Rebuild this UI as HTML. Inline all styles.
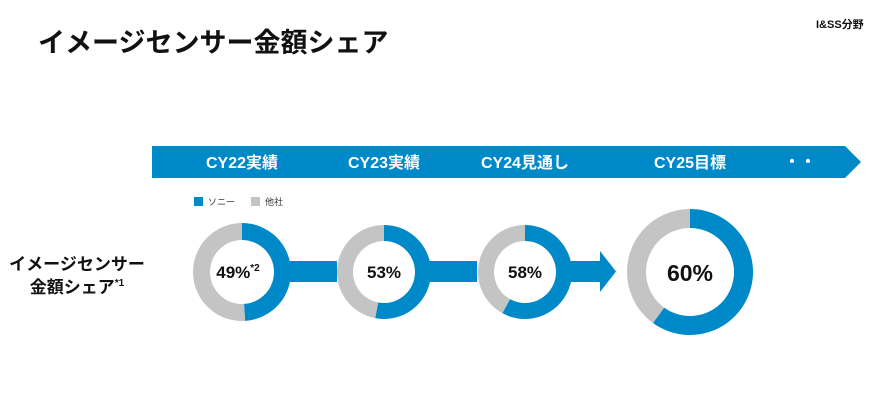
<!DOCTYPE html>
<html><head><meta charset="utf-8">
<style>
body{margin:0;background:#fff;}
svg{display:block;font-family:"Liberation Sans","Noto Sans CJK JP",sans-serif;}
</style></head>
<body>
<svg id="chart" width="891" height="400" viewBox="0 0 891 400">
<text x="38" y="52" font-size="27" font-weight="bold" fill="#111">イメージセンサー金額シェア</text>
<text x="816" y="28" font-size="11" font-weight="bold" fill="#111">I&amp;SS分野</text>
<polygon points="152,146 845,146 861,162 845,178 152,178" fill="#0089c8"/>
<g id="banner-labels"></g>
<rect x="194" y="197" width="9" height="9" fill="#0089c8"/>
<text x="208" y="205" font-size="9" fill="#333">ソニー</text>
<rect x="251" y="197" width="9" height="9" fill="#c4c4c4"/>
<text x="265" y="205" font-size="9" fill="#333">他社</text>
<text x="77" y="270" font-size="17" font-weight="bold" fill="#111" text-anchor="middle">イメージセンサー</text>
<text x="77" y="293" font-size="17" font-weight="bold" fill="#111" text-anchor="middle">金額シェア<tspan font-size="10" dy="-7">*1</tspan></text>
<rect x="289" y="261" width="48" height="21" fill="#0089c8"/>
<rect x="429" y="261" width="48" height="21" fill="#0089c8"/>
<polygon points="570,261 600,261 600,251 616,271.5 600,292 600,282 570,282" fill="#0089c8"/>
<g id="donuts"></g>
<text x="800" y="167" font-size="16" font-weight="bold" fill="#fff" text-anchor="middle">・・</text>
</svg>
<script>
const years = ["CY22実績","CY23実績","CY24見通し","CY25目標"];
const sonyShare = [49, 53, 58, 60];
const shareLabels = ["49%","53%","58%","60%"];
const NS = "http://www.w3.org/2000/svg";
const cx = [242, 384, 525, 690];
const ro = [49, 47, 47, 63];
const ri = [32, 31, 31, 44];
const bl = document.getElementById('banner-labels');
years.forEach((y,i)=>{
  const t = document.createElementNS(NS,'text');
  
  
  t.setAttribute('x', cx[i]); t.setAttribute('y', 168);
  t.setAttribute('font-size', 16); t.setAttribute('font-weight','bold');
  t.setAttribute('fill','#fff'); t.setAttribute('text-anchor','middle');
  t.textContent = y; bl.appendChild(t);
});
function arc(cxp, cy, r1, r2, a0, a1, fill){
  const p = (r,a)=>[cxp + r*Math.sin(a), cy - r*Math.cos(a)];
  const large = (a1-a0) > Math.PI ? 1 : 0;
  const [x1,y1]=p(r1,a0),[x2,y2]=p(r1,a1),[x3,y3]=p(r2,a1),[x4,y4]=p(r2,a0);
  const path = document.createElementNS(NS,'path');
  path.setAttribute('d',`M${x1},${y1}A${r1},${r1} 0 ${large} 1 ${x2},${y2}L${x3},${y3}A${r2},${r2} 0 ${large} 0 ${x4},${y4}Z`);
  path.setAttribute('fill', fill);
  return path;
}
const dg = document.getElementById('donuts');
sonyShare.forEach((v,i)=>{
  const cy = 272;
  const a = v/100*2*Math.PI;
  const s = arc(cx[i], cy, ro[i], ri[i], 0, a, '#0089c8');
  
  
  dg.appendChild(s);
  const o = arc(cx[i], cy, ro[i], ri[i], a, 2*Math.PI - 0.0001, '#c4c4c4');
  
  
  dg.appendChild(o);
  const t = document.createElementNS(NS,'text');
  
  
  t.setAttribute('x', cx[i] + (i===0 ? -4 : 0)); t.setAttribute('y', i===3 ? 281 : 278);
  t.setAttribute('font-size', i===3 ? 23 : 17); t.setAttribute('font-weight','bold');
  t.setAttribute('fill','#111'); t.setAttribute('text-anchor','middle');
  t.textContent = shareLabels[i];
  if(i===0){
    const sp = document.createElementNS(NS,'tspan');
    sp.setAttribute('font-size', 10); sp.setAttribute('dy', -7);
    sp.textContent = '*2'; t.appendChild(sp);
  }
  dg.appendChild(t);
});
</script>
</body></html>
